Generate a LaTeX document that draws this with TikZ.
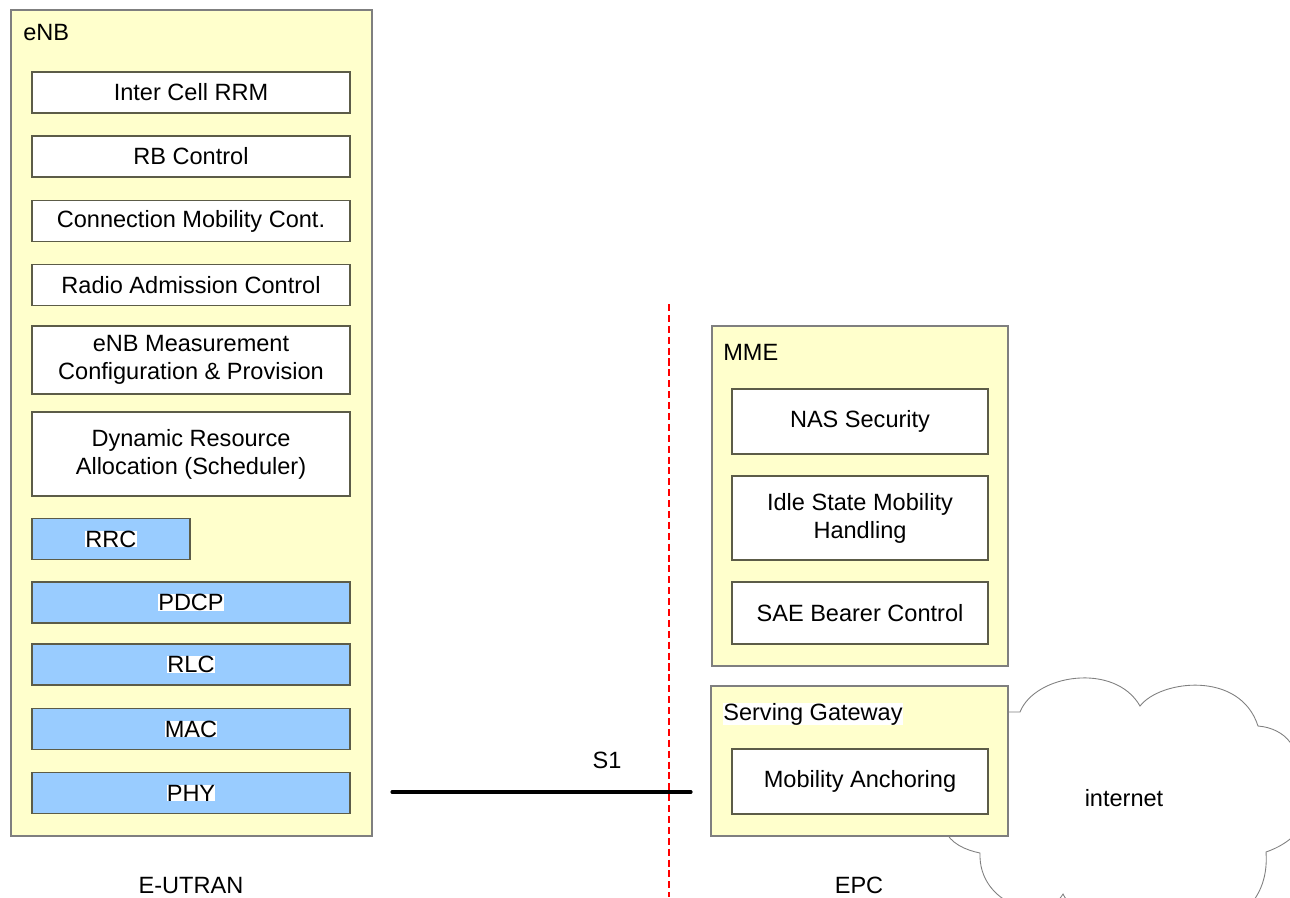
\documentclass[tikz,border=0pt]{standalone}
\usepackage{fontspec}
\setmainfont{Liberation Sans}
\definecolor{paleyellow}{HTML}{FFFFCC}
\definecolor{layerblue}{HTML}{99CCFF}
\definecolor{boxedge}{HTML}{5C5C48}
\definecolor{groupedge}{HTML}{7F7F7F}
\newcommand{\whitebg}[1]{{\setlength{\fboxsep}{0pt}\colorbox{white}{#1}}}

\begin{document}
\begin{tikzpicture}[x=0.02cm,y=-0.02cm,
  font=\fontsize{13.4}{16}\selectfont,
  grp/.style={draw=groupedge,fill=paleyellow,line width=0.9pt,inner sep=0pt},
  fn/.style={draw=boxedge,fill=white,line width=0.8pt,inner sep=0pt,align=center,minimum width=6.36cm,minimum height=0.82cm},
  lay/.style={fn,fill=layerblue},
  mfn/.style={fn,minimum width=5.12cm},
  lbl/.style={inner sep=0pt}]
\useasboundingbox (0,0) rectangle (1290,897);

% cloud behind the gateway
\begin{scope}
\clip (0,0) rectangle (1290,897);
\draw[gray,line width=0.5pt,fill=white] (1000,712) -- (1020,712)
  .. controls (1035,674) and (1115,662) .. (1140,706)
  .. controls (1160,680) and (1240,670) .. (1258,726)
  .. controls (1285,728) and (1305,750) .. (1292,777)
  .. controls (1320,790) and (1315,835) .. (1266,852)
  .. controls (1268,880) and (1258,900) .. (1240,915)
  .. controls (1180,935) and (1080,930) .. (1063,894)
  .. controls (1045,925) and (978,905) .. (980,853)
  .. controls (965,850) and (950,843) .. (945,830) -- cycle;
\end{scope}

% eNB
\node[grp,minimum width=7.22cm,minimum height=16.52cm] (enb) at (191.5,423) {};
\node[lbl,anchor=base west] (enblabel) at (23,40) {eNB};
\node[fn] (rrm) at (191,92.5) {Inter Cell RRM};
\node[fn] (rbc) at (191,156.5) {RB Control};
\node[fn] (cmc) at (191,221) {Connection Mobility Cont.};
\node[fn] (rac) at (191,285) {Radio Admission Control};
\node[fn,minimum height=1.36cm] (meas) at (191,360) {eNB Measurement\\Configuration \& Provision};
\node[fn,minimum height=1.68cm] (dra) at (191,454) {Dynamic Resource\\Allocation (Scheduler)};
\node[lay,minimum width=3.16cm] (rrc) at (111,539) {\whitebg{RRC}};
\node[lay] (pdcp) at (191,602.5) {\whitebg{PDCP}};
\node[lay] (rlc) at (191,664.5) {\whitebg{RLC}};
\node[lay] (mac) at (191,729) {\whitebg{MAC}};
\node[lay] (phy) at (191,793) {\whitebg{PHY}};

% MME
\node[grp,minimum width=5.92cm,minimum height=6.8cm] (mme) at (860,496) {};
\node[lbl,anchor=base west] (mmelabel) at (723,360) {MME};
\node[mfn,minimum height=1.3cm] (nas) at (860,421.5) {NAS Security};
\node[mfn,minimum height=1.68cm] (idle) at (860,518) {Idle State Mobility\\Handling};
\node[mfn,minimum height=1.24cm] (sae) at (860,613) {SAE Bearer Control};

% serving gateway
\node[grp,minimum width=5.94cm,minimum height=3cm] (sgw) at (859.5,761) {};
\node[lbl,anchor=base west] (sgwlabel) at (723,720) {\whitebg{Serving Gateway}};
\node[mfn,minimum height=1.3cm] (manchor) at (860,781.5) {Mobility Anchoring};
\node[lbl,anchor=base] (inet) at (1124,806) {internet};

% S1 and the border line
\coordinate (s1a) at (392,792);
\coordinate (s1b) at (691,792);
\draw[line width=1.8pt,line cap=round] (s1a) -- (s1b);
\node[lbl,anchor=base] (s1) at (607,768) {S1};
\coordinate (bordertop) at (669,304);
\coordinate (borderbot) at (669,897);
\draw[red,line width=1pt,dash pattern=on 4pt off 2.2pt] (bordertop) -- (borderbot);
\node[lbl,anchor=base] (eutran) at (191,893) {E-UTRAN};
\node[lbl,anchor=base] (epc) at (859,893) {EPC};
\end{tikzpicture}
\end{document}
